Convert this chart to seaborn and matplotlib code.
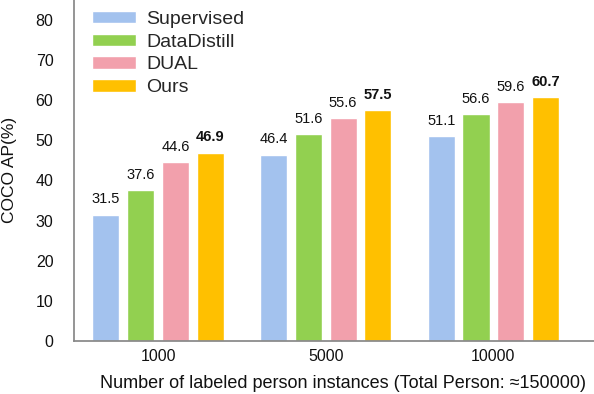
import matplotlib.pyplot as plt
import pandas as pd
import seaborn as sns

sns.set_theme(style="white")
plt.rcParams["font.family"] = ["Liberation Sans", "DejaVu Sans"]

groups = ["1000", "5000", "10000"]
methods = ["Supervised", "DataDistill", "DUAL", "Ours"]
supervised = [31.5, 46.4, 51.1]
datadistill = [37.6, 51.6, 56.6]
dual = [44.6, 55.6, 59.6]
ours = [46.9, 57.5, 60.7]
palette = ["#A3C2EE", "#92D050", "#F2A0AC", "#FFC000"]

rows = []
for name, vals in zip(methods, [supervised, datadistill, dual, ours]):
    for g, v in zip(groups, vals):
        rows.append({"group": g, "method": name, "ap": v})
df = pd.DataFrame(rows)

fig, ax = plt.subplots(figsize=(5.94, 3.94), dpi=100)
sns.barplot(
    data=df,
    x="group",
    y="ap",
    hue="method",
    palette=palette,
    saturation=1,
    width=0.83,
    gap=0.22,
    errorbar=None,
    ax=ax,
)

for i, cont in enumerate(ax.containers):
    bold = methods[i] == "Ours"
    ax.bar_label(
        cont,
        labels=[f"{b.get_height():.1f}" for b in cont],
        padding=6,
        fontsize=10.5,
        fontweight="bold" if bold else "normal",
        color="#111111",
    )

ax.set_ylim(0, 85)
ax.set_xlim(-0.5, 2.6)
ax.set_yticks(range(0, 81, 10))
ax.tick_params(axis="y", length=0, pad=15, labelsize=11.5, colors="#111111")
ax.tick_params(axis="x", length=0, pad=6, labelsize=11.5, colors="#111111")
for s in ["top", "right"]:
    ax.spines[s].set_visible(False)
ax.spines["left"].set_color("#888888")
ax.spines["bottom"].set_color("#888888")

ax.set_ylabel("COCO AP(%)", fontsize=12.5, color="#111111")
ax.set_xlabel("Number of labeled person instances (Total Person: \u2248150000)",
              fontsize=13, color="#111111")
ax.xaxis.set_label_coords(0.517, -0.1)
ax.yaxis.set_label_coords(-0.11, 0.5)

ax.legend(
    loc="upper left",
    bbox_to_anchor=(0.0, 1.02),
    frameon=False,
    fontsize=14,
    handlelength=2.3,
    handleheight=0.6,
    labelspacing=0.3,
    handletextpad=0.5,
)

fig.subplots_adjust(left=0.125, right=1.0, top=1.0, bottom=0.135)
fig.savefig("out.png", dpi=100)
